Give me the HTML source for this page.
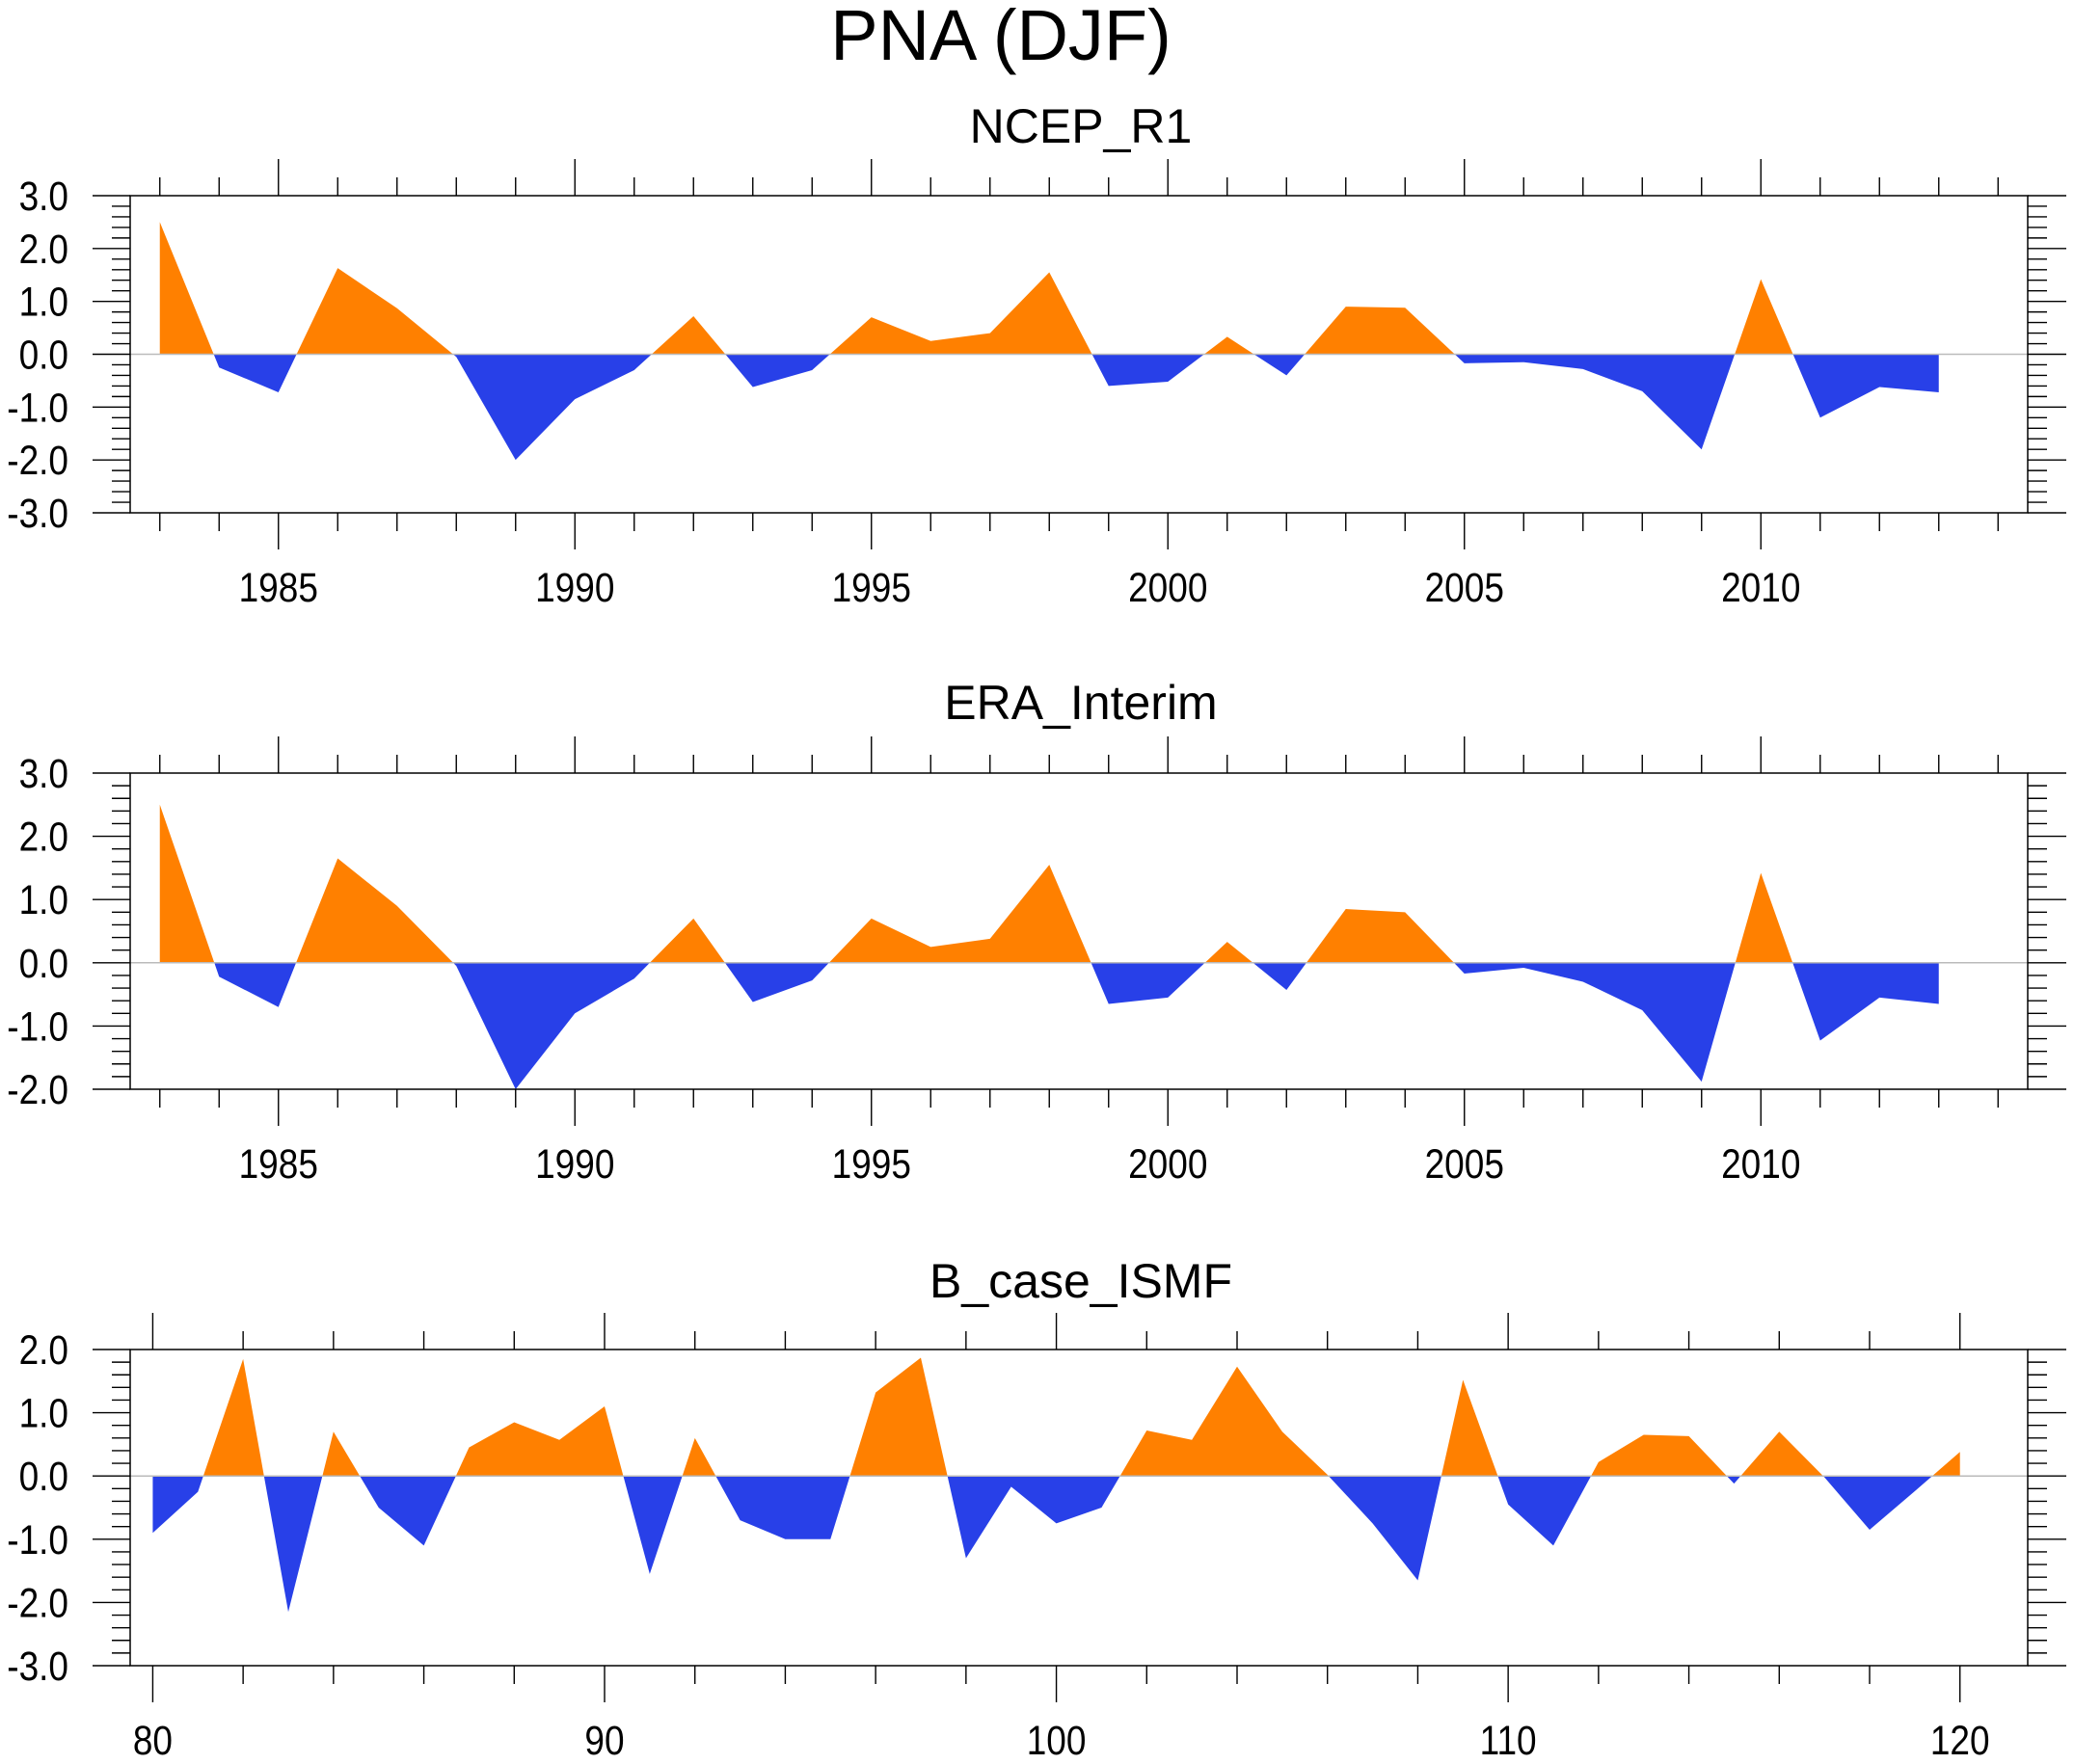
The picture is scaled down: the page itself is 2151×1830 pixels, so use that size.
<!DOCTYPE html>
<html><head><meta charset="utf-8">
<style>
html,body{margin:0;padding:0;background:#fff;}
svg{display:block;font-family:"Liberation Sans",sans-serif;}
</style></head>
<body>
<svg id="chart" width="2151" height="1830" viewBox="0 0 2151 1830" xmlns="http://www.w3.org/2000/svg">
<text x="1038" y="62" font-size="74" text-anchor="middle">PNA (DJF)</text>
</svg>
<script>
const ncepYears = [1983,1984,1985,1986,1987,1988,1989,1990,1991,1992,1993,1994,1995,1996,1997,1998,1999,2000,2001,2002,2003,2004,2005,2006,2007,2008,2009,2010,2011,2012,2013];
const ncepValues = [2.5,-0.25,-0.72,1.63,0.87,-0.05,-2.0,-0.85,-0.3,0.72,-0.62,-0.3,0.7,0.25,0.4,1.55,-0.6,-0.52,0.33,-0.4,0.9,0.88,-0.17,-0.15,-0.28,-0.7,-1.8,1.42,-1.2,-0.62,-0.72];
const eraValues = [2.5,-0.22,-0.7,1.65,0.9,-0.05,-2.0,-0.8,-0.25,0.7,-0.62,-0.28,0.7,0.25,0.38,1.55,-0.65,-0.55,0.33,-0.43,0.85,0.8,-0.17,-0.08,-0.3,-0.75,-1.88,1.42,-1.23,-0.55,-0.65];
const bcaseYears = [80,81,82,83,84,85,86,87,88,89,90,91,92,93,94,95,96,97,98,99,100,101,102,103,104,105,106,107,108,109,110,111,112,113,114,115,116,117,118,119,120];
const bcaseValues = [-0.9,-0.25,1.85,-2.15,0.7,-0.5,-1.1,0.45,0.85,0.57,1.1,-1.55,0.6,-0.7,-1.0,-1.0,1.32,1.87,-1.3,-0.17,-0.75,-0.5,0.72,0.57,1.73,0.7,0.02,-0.75,-1.65,1.52,-0.45,-1.1,0.22,0.65,0.63,-0.12,0.7,-0.02,-0.85,-0.24,0.38];
const yearTickLabels = ["1985","1990","1995","2000","2005","2010"];
const modelTickLabels = ["80","90","100","110","120"];

const NS="http://www.w3.org/2000/svg";
const svg=document.getElementById('chart');
function mk(tag,attrs,parent){const e=document.createElementNS(NS,tag);for(const k in attrs)e.setAttribute(k,attrs[k]);(parent||svg).appendChild(e);return e;}
function label(g,x,y,anchor,txt,nm){
  const tx=mk('text',{x:0,y:0,'font-size':37,'text-anchor':anchor,transform:'translate('+x+','+y+') scale(1,1.15)'},g);
  tx.textContent=txt;
  
  
}

function panel(cfg){
  const g=mk('g',{});
  
  
  const L=135,R=2103,T=cfg.top,B=cfg.bottom;
  const xs=v=>L+(v-cfg.xmin)/(cfg.xmax-cfg.xmin)*(R-L);
  const ys=v=>T+(cfg.ymax-v)/(cfg.ymax-cfg.ymin)*(B-T);
  const t=mk('text',{x:1121,y:cfg.titleY,'font-size':50,'text-anchor':'middle'},g);
  t.textContent=cfg.title;
  
  
  const y0=ys(0);
  const xsArr=cfg.x, vs=cfg.v;
  let pos=[],neg=[];
  for(let i=0;i<xsArr.length-1;i++){
    const a=vs[i],b=vs[i+1],xa=xsArr[i],xb=xsArr[i+1];
    if(a*b<0){const xc=xa+(xb-xa)*a/(a-b);
      pos.push([xa,Math.max(a,0)],[xc,0]);neg.push([xa,Math.min(a,0)],[xc,0]);}
    else{pos.push([xa,Math.max(a,0)]);neg.push([xa,Math.min(a,0)]);}
  }
  const n=xsArr.length-1;
  pos.push([xsArr[n],Math.max(vs[n],0)]);neg.push([xsArr[n],Math.min(vs[n],0)]);
  function poly(pts,col,nm){
    let d='M'+xs(pts[0][0])+','+y0;
    pts.forEach(p=>{d+='L'+xs(p[0])+','+ys(p[1]);});
    d+='L'+xs(pts[pts.length-1][0])+','+y0+'Z';
    const p=mk('path',{d:d,fill:col},g);
    
    
  }
  poly(pos,'#ff8000',cfg.name+'-positive-area');
  poly(neg,'#2840e8',cfg.name+'-negative-area');
  mk('line',{x1:L,x2:R,y1:y0,y2:y0,stroke:'#bbb','stroke-width':1.5},g);
  const fr=mk('rect',{x:L,y:T,width:R-L,height:B-T,fill:'none',stroke:'#000','stroke-width':1.5},g);
  
  
  for(let v=cfg.ymin;v<=cfg.ymax+1e-6;v+=0.2){
    const y=ys(v);const major=Math.abs(v-Math.round(v))<1e-6;
    mk('line',{x1:major?96:116,x2:L,y1:y,y2:y,stroke:'#000','stroke-width':1.4},g);
    mk('line',{x1:R,x2:major?2143:2123,y1:y,y2:y,stroke:'#000','stroke-width':1.4},g);
    if(major) label(g,71,y+15,'end',(Math.round(v)).toFixed(1),'y-tick-label');
  }
  let li=0;
  for(let v=Math.ceil(cfg.xmin);v<=cfg.xmax;v+=cfg.xstep){
    const x=xs(v);const major=(v%cfg.xmajor)===0;
    const len=major?38:19;
    mk('line',{x1:x,x2:x,y1:T,y2:T-len,stroke:'#000','stroke-width':1.4},g);
    mk('line',{x1:x,x2:x,y1:B,y2:B+len,stroke:'#000','stroke-width':1.4},g);
    if(major&&li<cfg.labels.length) label(g,x,cfg.labelY,'middle',cfg.labels[li++],'x-tick-label');
  }
}
panel({name:'ncep-r1-panel',title:'NCEP_R1',titleY:148,top:203,bottom:532,ymin:-3,ymax:3,xmin:1982.5,xmax:2014.5,xstep:1,xmajor:5,x:ncepYears,v:ncepValues,labels:yearTickLabels,labelY:624});
panel({name:'era-interim-panel',title:'ERA_Interim',titleY:746,top:802,bottom:1130,ymin:-2,ymax:3,xmin:1982.5,xmax:2014.5,xstep:1,xmajor:5,x:ncepYears,v:eraValues,labels:yearTickLabels,labelY:1222});
panel({name:'b-case-ismf-panel',title:'B_case_ISMF',titleY:1346,top:1400,bottom:1728,ymin:-3,ymax:2,xmin:79.5,xmax:121.5,xstep:2,xmajor:10,x:bcaseYears,v:bcaseValues,labels:modelTickLabels,labelY:1820});
</script>
</body></html>
